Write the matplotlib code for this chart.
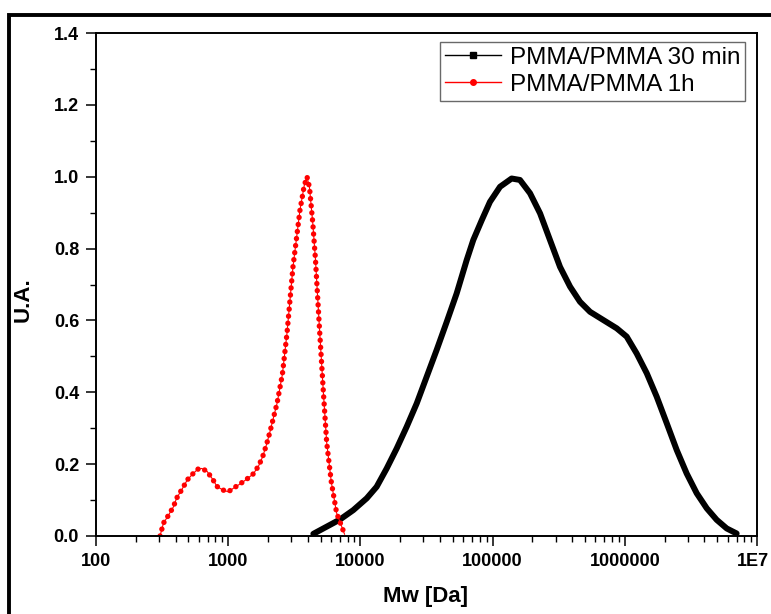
import numpy as np
import matplotlib
matplotlib.use('Agg')
from matplotlib import pyplot as plt
from matplotlib.lines import Line2D
from matplotlib.patches import Rectangle
from matplotlib.transforms import ScaledTranslation

plt.rcParams['font.family'] = ['Liberation Sans', 'DejaVu Sans']

# PMMA/PMMA 30 min
mw_30 = [4406, 5559, 7015, 8831, 11170, 13270, 15810, 18840, 22390, 26670,
         31700, 37760, 44980, 53460, 63680, 71450, 82790, 95500, 113800,
         139300, 161000, 191900, 228600, 271600, 323600, 385500, 458100,
         545800, 688700, 869000, 1033000, 1230000, 1466000, 1742000,
         2075000, 2472000, 2938000, 3499000, 4169000, 4955000, 5902000,
         7015000]
ua_30 = [0.006, 0.026, 0.046, 0.072, 0.105, 0.137, 0.188, 0.244, 0.304, 0.369,
         0.443, 0.518, 0.596, 0.675, 0.768, 0.824, 0.879, 0.930, 0.972,
         0.995, 0.991, 0.954, 0.898, 0.824, 0.749, 0.694, 0.652,
         0.624, 0.601, 0.578, 0.555, 0.508, 0.453, 0.388,
         0.314, 0.239, 0.174, 0.119, 0.077, 0.045, 0.021,
         0.007]

# PMMA/PMMA 1h
mw_1h = [305, 324, 347, 385, 407, 457, 490, 537, 589, 631, 692, 769, 822,
         912, 1000, 1096, 1230, 1380, 1549, 1698, 1820, 1950, 2070, 2344,
         2570, 2786, 3090, 3491, 3758, 3945, 4121, 4365, 4571, 4898, 5248,
         5559, 6026, 6607, 7244, 7586]
ua_1h = [0.0, 0.036, 0.053, 0.081, 0.105, 0.136, 0.156, 0.172, 0.186, 0.188,
         0.180, 0.156, 0.138, 0.128, 0.123, 0.133, 0.145, 0.158, 0.173,
         0.195, 0.22, 0.255, 0.29, 0.37, 0.45, 0.565, 0.749, 0.907, 0.975,
         1.0, 0.97, 0.87, 0.77, 0.58, 0.40, 0.26, 0.15, 0.064, 0.025, 0.005]

labels = ['PMMA/PMMA 30 min', 'PMMA/PMMA 1h']

fig = plt.figure(figsize=(7.71, 6.14), dpi=100)
ax = fig.add_axes([96/771, 1 - 536/614, 661/771, 503/614])

# black series: overlapping square markers look like a thick line
ax.plot(mw_30, ua_30, color='black', lw=4.3, solid_capstyle='round',
        solid_joinstyle='round')
# red series: thin line plus a chain of round dots
ax.plot(mw_1h, ua_1h, color='red', lw=0.8)
ax.plot(mw_1h, ua_1h, color='red', lw=3.9, linestyle=(0, (0.01, 1.3)),
        dash_capstyle='round')

ax.set_xscale('log')
ax.set_xlim(100, 1e7)
ax.set_ylim(0, 1.4)
ax.set_xticks([100, 1000, 10000, 100000, 1000000, 10000000])
ax.set_xticklabels(['100', '1000', '10000', '100000', '1000000', '1E7'])
ax.set_yticks(np.arange(0, 1.41, 0.2))
ax.set_yticklabels(['%.1f' % v for v in np.arange(0, 1.41, 0.2)])
ax.set_yticks(np.arange(0.1, 1.4, 0.2), minor=True)
ax.xaxis.set_minor_locator(matplotlib.ticker.LogLocator(base=10, subs=np.arange(2, 10)))
ax.xaxis.set_minor_formatter(matplotlib.ticker.NullFormatter())

ax.tick_params(which='major', direction='out', length=7.2, width=1.1,
               labelsize=13, pad=5)
ax.tick_params(which='minor', direction='out', length=4.3, width=1.0)
for lab in ax.get_xticklabels() + ax.get_yticklabels():
    lab.set_fontweight('bold')
for sp in ax.spines.values():
    sp.set_linewidth(1.4)

# keep the last x label inside the picture
last = ax.get_xticklabels()[-1]
last.set_transform(last.get_transform() + ScaledTranslation(-4/100, 0, fig.dpi_scale_trans))

ax.set_xlabel('Mw [Da]', fontsize=16, fontweight='bold')
ax.set_ylabel('U.A.', fontsize=16, fontweight='bold')
ax.xaxis.set_label_coords(0.498, -0.10)
ax.yaxis.set_label_coords(-0.094, 0.47)

handles = [
    Line2D([], [], color='black', lw=1, marker='s', ms=4),
    Line2D([], [], color='red', lw=1, marker='o', ms=4),
]
leg = ax.legend(handles, labels, loc='upper right',
                bbox_to_anchor=(1 - 12/661, 1 - 9/503), borderaxespad=0,
                fontsize=17.5, frameon=True, fancybox=False, numpoints=1,
                handlelength=2.3, handletextpad=0.35, labelspacing=0.2,
                borderpad=0.2)
leg.get_frame().set_edgecolor('#444444')
leg.get_frame().set_linewidth(1.0)

# outer frame of the figure (cut off at right and bottom)
fig.patches.append(Rectangle((9.3/771, -0.2), 1.5, 1 - 15/614 + 0.2,
                             transform=fig.transFigure, fill=False,
                             edgecolor='black', lw=2.8, clip_on=False))

fig.savefig('out.png', dpi=100)
